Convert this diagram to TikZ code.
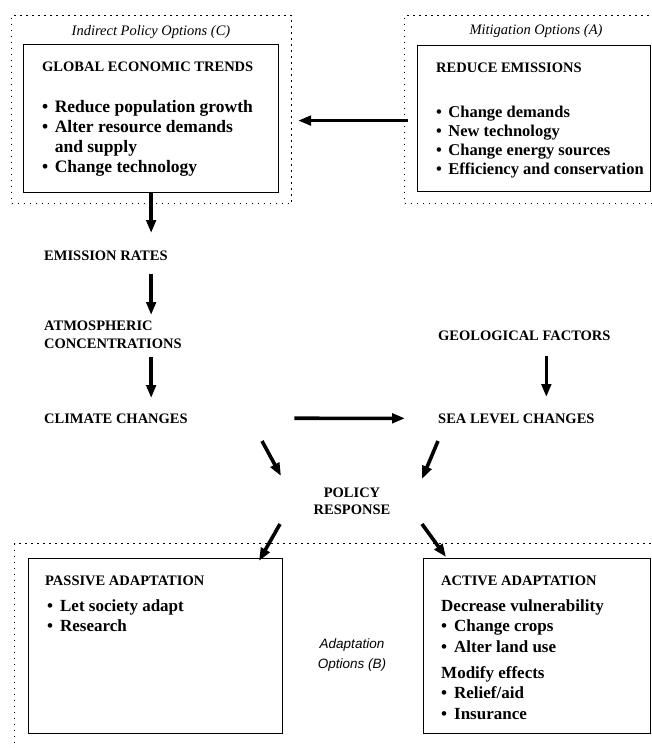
\documentclass[tikz,border=0pt]{standalone}
\usepackage{fontspec}
\setmainfont{Liberation Serif}
\newfontfamily\labelsans{Liberation Sans}
\usetikzlibrary{arrows.meta,positioning}

\tikzset{
  optbox/.style={draw, line width=1.1pt, dash pattern=on 1.6pt off 4.4pt, inner sep=0pt, anchor=north west},
  solidbox/.style={draw, line width=1.3pt, inner sep=0pt, anchor=north west},
  caps/.style={inner sep=0pt, anchor=base west, font=\fontsize{14.5}{18}\selectfont\bfseries},
  itemtext/.style={inner sep=0pt, anchor=base west, font=\fontsize{17}{20}\selectfont\bfseries},
  optlabel/.style={inner sep=0pt, anchor=base, font=\fontsize{14.5}{17}\selectfont\itshape},
  flow/.style={line width=3.6pt, -{Triangle[length=13pt,width=9.5pt]}},
}

\begin{document}
\begin{tikzpicture}[x=1pt,y=-1pt]
\useasboundingbox (0,0) rectangle (652,748);

% dotted option frames
\node[optbox, minimum width=280pt, minimum height=188pt] (optC) at (11,15) {};
\node[optbox, minimum width=262pt, minimum height=188pt] (optA) at (404,15) {};
\node[optbox, minimum width=652pt, minimum height=220pt] (optB) at (14,543) {};
\node[optlabel] (optCtxt) at (151,35) {Indirect Policy Options (C)};
\node[optlabel] (optAtxt) at (536,34) {Mitigation Options (A)};
\node[inner sep=0pt, anchor=base, font=\fontsize{13.5}{20}\selectfont\labelsans\itshape] (optBtxt) at (352,648)
  {\begin{tabular}[t]{@{}c@{}}Adaptation\\Options (B)\end{tabular}};

% indirect policy box
\node[solidbox, minimum width=255pt, minimum height=148pt] (gbox) at (23,44) {};
\node[caps] (gtitle) at (42,71) {GLOBAL ECONOMIC TRENDS};
\node[itemtext, font=\fontsize{17.5}{20}\selectfont\bfseries] (glist) at (42,112) {\begin{tabular}[t]{@{}l@{\hspace{6.5pt}}l@{}}
  \textbullet & Reduce population growth\\
  \textbullet & Alter resource demands\\
              & and supply\\
  \textbullet & Change technology
  \end{tabular}};

% mitigation box
\node[solidbox, minimum width=233pt, minimum height=146pt] (rbox) at (417,45) {};
\node[caps] (rtitle) at (436,72) {REDUCE EMISSIONS};
\node[itemtext, font=\fontsize{16.5}{19}\selectfont\bfseries] (rlist) at (436,117) {\begin{tabular}[t]{@{}l@{\hspace{6.5pt}}l@{}}
  \textbullet & Change demands\\
  \textbullet & New technology\\
  \textbullet & Change energy sources\\
  \textbullet & Efficiency and conservation
  \end{tabular}};

% chain of effects
\node[caps] (er) at (44,260) {EMISSION RATES};
\node[caps] (atm) at (44,330) {\begin{tabular}[t]{@{}l@{}}ATMOSPHERIC\\CONCENTRATIONS\end{tabular}};
\node[caps] (cc) at (44,423) {CLIMATE CHANGES};
\node[caps] (geo) at (438,340) {GEOLOGICAL FACTORS};
\node[caps] (slc) at (438,423) {SEA LEVEL CHANGES};
\node[caps, anchor=base, font=\fontsize{14.5}{17}\selectfont\bfseries] (pr) at (352,497)
  {\begin{tabular}[t]{@{}c@{}}POLICY\\RESPONSE\end{tabular}};

% adaptation boxes
\node[solidbox, minimum width=254pt, minimum height=175pt] (pbox) at (28,558) {};
\node[caps] (ptitle) at (45,585) {PASSIVE ADAPTATION};
\node[itemtext] (plist) at (47,611) {\begin{tabular}[t]{@{}l@{\hspace{7pt}}l@{}}
  \textbullet & Let society adapt\\
  \textbullet & Research
  \end{tabular}};
\node[solidbox, minimum width=227pt, minimum height=175pt] (abox) at (423,558) {};
\node[caps] (atitle) at (441,585) {ACTIVE ADAPTATION};
\node[itemtext, font=\fontsize{17}{20.5}\selectfont\bfseries] (alist) at (441,611) {\begin{tabular}[t]{@{}l@{\hspace{7pt}}l@{}}
  \multicolumn{2}{@{}l@{}}{Decrease vulnerability}\\
  \textbullet & Change crops\\
  \textbullet & Alter land use\\[5.5pt]
  \multicolumn{2}{@{}l@{}}{Modify effects}\\
  \textbullet & Relief/aid\\
  \textbullet & Insurance
  \end{tabular}};

% free ends of the slanted arrows
\coordinate (cc-out) at (262,441);
\coordinate (pr-in1) at (281,476);
\coordinate (slc-out) at (438,441);
\coordinate (pr-in2) at (422,479);
\coordinate (pr-out1) at (280,524);
\coordinate (pbox-in) at (259,561);
\coordinate (pr-out2) at (422,524);
\coordinate (abox-in) at (446,557);

% arrows
\draw[flow, shorten <=-4pt, shorten >=6pt] ([yshift=-11pt]optA.west) -- ([yshift=-11pt]optC.east);
\draw[flow, shorten >=27pt] (gbox.south) -- (gbox.south |- er.base);
\draw[flow, shorten <=14pt, shorten >=15pt] (gbox.south |- er.base) -- (gbox.south |- atm.base);
\draw[flow, shorten <=27pt, shorten >=25pt] (gbox.south |- atm.base) -- (gbox.south |- cc.base);
\draw[flow, shorten <=106.5pt, shorten >=33pt] (cc.east) -- (slc.west);
\draw[flow, shorten <=16pt, shorten >=26pt] ([xshift=22pt]geo.base) -- ([xshift=22pt]geo.base |- slc.base);
\draw[flow] (cc-out) -- (pr-in1);
\draw[flow] (slc-out) -- (pr-in2);
\draw[flow] (pr-out1) -- (pbox-in);
\draw[flow] (pr-out2) -- (abox-in);
\end{tikzpicture}
\end{document}
